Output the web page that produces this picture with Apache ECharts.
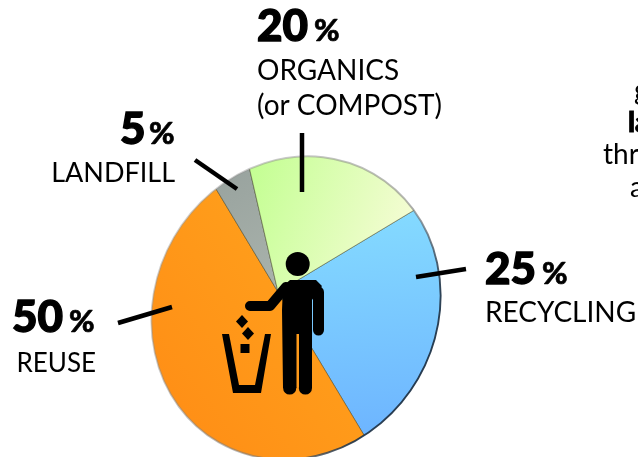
<!DOCTYPE html>
<html><head><meta charset="utf-8">
<style>html,body{margin:0;padding:0;background:#fff;overflow:hidden}#c{width:638px;height:457px}</style>
<script src="https://cdn.jsdelivr.net/npm/echarts@6/dist/echarts.min.js"></script>
</head><body><div id="c"></div>
<script>
const categories = ['RECYCLING','REUSE','LANDFILL','ORGANICS'];
const values = [25,50,5,20];
const paragraphFragments = ['g','la','thre','a'];
const FONT = 'Lato, "Open Sans", sans-serif';
const grad = (x,y,x2,y2,a,b)=>new echarts.graphic.LinearGradient(x,y,x2,y2,[{offset:0,color:a},{offset:1,color:b}]);
const colors = [
  grad(0.5,0,0.6,1,'#86DDFF','#6CB2FF'),
  grad(0,0.8,1,0.2,'#FF8A14','#FFA61E'),
  grad(0,0,1,1,'#8F9A97','#AAB3AC'),
  grad(0,0.2,1,0.6,'#BDFF8A','#FBFCDC')
];
const chart = echarts.init(document.getElementById('c'),null,{renderer:'canvas'});
function txt(x,baseline,s,size,align,weight,bold){
  return {type:'text',z:20,style:{x,y:baseline-size*0.84,text:s,fill:'#000',font:`${weight||400} ${size}px ${FONT}`,align:align||'left',verticalAlign:'top',stroke:bold?'#000':null,lineWidth:bold||0}};
}
function pct(xNum,y,num){
  return [txt(xNum,y,num,44,'left',900,1.4),txt(xNum+28*num.length+1,y,'%',31,'left',900,0.6)];
}
function stick(x1,y1,x2,y2,w){return {type:'line',z:20,shape:{x1,y1,x2,y2},style:{stroke:'#000',lineWidth:w||4.5}};}
function poly(pts){return {type:'polygon',z:20,shape:{points:pts},style:{fill:'#000'}};}
const rimTransform={x:296,y:308,rotation:-Math.PI/6,scaleX:141/100,scaleY:155/100};
const graphics=[
  {type:'ring',z:10,...rimTransform,shape:{cx:0,cy:0,r0:100,r:175},style:{fill:'#fff'}},
  {type:'circle',z:11,...rimTransform,shape:{cx:0,cy:0,r:100},style:{fill:'none',lineWidth:1.3,stroke:new echarts.graphic.LinearGradient(0,0,1,0,[{offset:0,color:'rgba(150,150,150,0.45)'},{offset:0.65,color:'rgba(120,120,120,0.55)'},{offset:0.9,color:'rgba(30,50,70,0.9)'},{offset:1,color:'rgba(30,50,70,0.95)'}])}},
  ...pct(257,42,'20'),
  txt(257,80,'ORGANICS',28),txt(257,115,'(or COMPOST)',28),
  ...pct(120,145,'5'),
  txt(175,182,'LANDFILL',27,'right'),
  ...pct(485,285,'25'),
  txt(485,322,categories[0],28),
  ...pct(12,333,'50'),
  txt(96,372,categories[1],26,'right'),
  stick(302,133,302,192),stick(195,160,237,189),stick(416,277,466,269),stick(118,323,172,307),
  txt(634,100,paragraphFragments[0],28),
  txt(628,132,paragraphFragments[1],28,'left',900,0.8),
  txt(603,164,paragraphFragments[2],28),
  txt(630,197,paragraphFragments[3],28),
  {type:'circle',z:20,shape:{cx:297.7,cy:264,r:12},style:{fill:'#000'}},
  poly([[283,286],[290,280],[316,280],[322,286],[312,300],[312,388],[299,388],[299,334],[296.5,334],[296.5,388],[283,388],[282,310]]),
  {type:'circle',z:20,shape:{cx:289.7,cy:388,r:6.6},style:{fill:'#000'}},
  {type:'circle',z:20,shape:{cx:305.4,cy:388,r:6.6},style:{fill:'#000'}},
  {type:'polyline',z:20,shape:{points:[[250,306],[270,306],[286,287]]},style:{stroke:'#000',fill:'none',lineWidth:10,lineCap:'round',lineJoin:'round'}},
  {type:'polyline',z:20,shape:{points:[[312,286],[318.5,292],[318.5,330]]},style:{stroke:'#000',fill:'none',lineWidth:11,lineCap:'round',lineJoin:'round'}},
  poly([[222,334],[233,393],[261,393],[271,334],[265,334],[255,385],[239,385],[229,334]]),
  poly([[242,315],[248,321.5],[242,328],[236,321.5]]),
  poly([[248,327],[254,333.5],[248,340],[242,333.5]]),
  {type:'rect',z:20,shape:{x:240.5,y:344,width:9,height:9},style:{fill:'#000'}}
];
chart.setOption({
  animation:false,
  backgroundColor:'#fff',
  series:[{
    type:'pie',center:[278,292],radius:[0,185],startAngle:31,clockwise:true,silent:true,
    label:{show:false},labelLine:{show:false},
    itemStyle:{borderColor:'rgba(50,50,20,0.55)',borderWidth:0.8},
    data:categories.map((name,i)=>({name,value:values[i],itemStyle:{color:colors[i]}}))
  }],
  graphic:graphics
});
</script></body></html>
